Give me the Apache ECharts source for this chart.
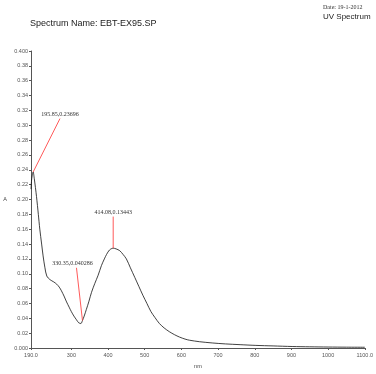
<!DOCTYPE html>
<html><head><meta charset="utf-8">
<script src="https://cdn.jsdelivr.net/npm/echarts@6/dist/echarts.min.js"></script>
<style>html,body{margin:0;padding:0;background:#fff}#c{width:376px;height:374px}</style>
</head><body><div id="c"></div>
<script>
const titleText = 'Spectrum Name: EBT-EX95.SP';
const dateText = 'Date: 19-1-2012';
const headText = 'UV Spectrum';
const xTicks = [190, 300, 400, 500, 600, 700, 800, 900, 1000, 1100];
const spectrum = [[190,0.214],[192,0.228],[195.85,0.237],[199,0.228],[205,0.204],[210,0.18],[214,0.16],[219,0.14],[223,0.124],[228,0.108],[233,0.097],[242,0.092],[252,0.089],[260,0.086],[267,0.082],[273,0.077],[280,0.07],[287,0.062],[294,0.055],[300,0.049],[307,0.043],[314,0.038],[320,0.034],[326,0.033],[330.35,0.037],[335,0.043],[341,0.052],[348,0.063],[355,0.075],[364,0.087],[373,0.098],[382,0.111],[390,0.12],[396,0.126],[404,0.132],[414.08,0.1344],[422,0.1335],[432,0.131],[441,0.126],[450,0.12],[461,0.108],[473,0.095],[484,0.083],[495,0.071],[506,0.06],[517,0.049],[528,0.041],[540,0.033],[553,0.027],[567,0.022],[581,0.018],[595,0.0147],[610,0.012],[622,0.0105],[649,0.0085],[684,0.0068],[720,0.0055],[760,0.0045],[803,0.0035],[850,0.0028],[902,0.002],[950,0.0016],[1000,0.0013],[1050,0.0011],[1100,0.001]];
const peakLabels = ['195.85,0.23696', '414.08,0.13443', '330.35,0.040286'];
const peakFrom = [[195.85, 0.237], [414.08, 0.1344], [330.35, 0.037]];
const peakTo = [[269, 0.309], [414.08, 0.177], [314, 0.108]];
const labelOffsets = [[0, 0], [0, 0], [-4, 0]];

const chart = echarts.init(document.getElementById('c'), null, {renderer: 'canvas'});
const peakSeries = peakLabels.map((t, i) => ({
  type: 'line', symbol: 'circle', symbolSize: 0.01, showSymbol: true, silent: true, z: 3,
  itemStyle: {color: '#ff3030'},
  lineStyle: {color: '#ff3030', width: 0.8},
  label: {show: false},
  data: [{value: peakFrom[i]}, {value: peakTo[i], label: {show: true, formatter: t, position: 'top', distance: 1,
    offset: labelOffsets[i], fontFamily: 'Liberation Serif', fontSize: 6, color: '#333'}}]
}));
chart.setOption({
  animation: false,
  grid: {left: 31, right: 10, top: 51, bottom: 21},
  graphic: [
    {type: 'text', left: 30, top: 19, style: {text: titleText, fontFamily: 'Liberation Sans', fontSize: 9, fill: '#222'}},
    {type: 'text', left: 323, top: 4, style: {text: dateText, fontFamily: 'Liberation Serif', fontSize: 6, fill: '#333'}},
    {type: 'text', left: 323, top: 13, style: {text: headText, fontFamily: 'Liberation Sans', fontSize: 8, fill: '#222'}}
  ],
  xAxis: {
    type: 'value', min: 190, max: 1100,
    name: 'nm', nameLocation: 'middle', nameGap: 15,
    nameTextStyle: {fontFamily: 'Liberation Sans', fontSize: 5.5, color: '#444'},
    axisLine: {lineStyle: {color: '#555', width: 1}},
    axisTick: {show: true, length: 2, customValues: xTicks, lineStyle: {color: '#555'}},
    axisLabel: {customValues: xTicks, fontFamily: 'Liberation Sans', fontSize: 5.5, color: '#555', margin: 4,
      formatter: v => (v === 190 || v === 1100) ? v.toFixed(1) : String(v)},
    splitLine: {show: false}
  },
  yAxis: {
    type: 'value', min: 0, max: 0.4, interval: 0.02,
    name: 'A', nameLocation: 'middle', nameGap: 24, nameRotate: 0,
    nameTextStyle: {fontFamily: 'Liberation Sans', fontSize: 5.5, color: '#444'},
    axisLine: {show: true, lineStyle: {color: '#555', width: 1}},
    axisTick: {show: true, length: 2, lineStyle: {color: '#555'}},
    axisLabel: {fontFamily: 'Liberation Sans', fontSize: 5.5, color: '#555', margin: 3,
      formatter: v => (Math.abs(v) < 1e-9 || Math.abs(v - 0.4) < 1e-9) ? v.toFixed(3) : v.toFixed(2)},
    splitLine: {show: false}
  },
  series: [{
    type: 'line', data: spectrum, symbol: 'none', smooth: 0.3, z: 2,
    lineStyle: {color: '#111', width: 0.8}
  }].concat(peakSeries)
});
</script></body></html>
